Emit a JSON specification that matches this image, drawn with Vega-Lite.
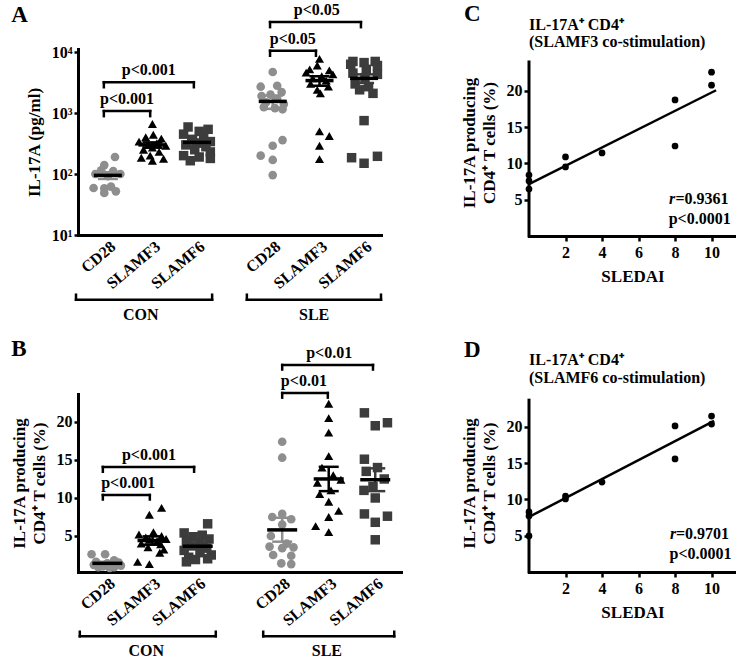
{
 "$schema": "https://vega.github.io/schema/vega-lite/v6.json",
 "padding": {"left": 10, "top": 2, "right": 0, "bottom": 0},
 "background": "white",
 "config": {
  "view": {"stroke": null},
  "font": "Liberation Serif",
  "axis": {"domainColor": "#000", "domainWidth": 3, "domainCap": "square", "tickColor": "#000", "tickWidth": 2.5, "tickSize": 5, "labelFont": "Liberation Serif", "labelFontSize": 16, "labelFontWeight": "bold", "labelColor": "#000", "titleFont": "Liberation Serif", "titleFontSize": 17, "titleFontWeight": "bold", "titleColor": "#000", "grid": false, "labelOverlap": false},
  "text": {"font": "Liberation Serif", "fontWeight": "bold", "fontSize": 16, "color": "#000"}
 },
 "datasets": {
  "a_pts": [
   {"k":"CD28","x":1.16,"v":190},{"k":"CD28","x":0.92,"v":140},{"k":"CD28","x":0.85,"v":115},{"k":"CD28","x":1.12,"v":112},{"k":"CD28","x":0.72,"v":100},{"k":"CD28","x":1.28,"v":100},{"k":"CD28","x":1.0,"v":92},{"k":"CD28","x":1.07,"v":62},{"k":"CD28","x":0.68,"v":59},{"k":"CD28","x":0.92,"v":58},{"k":"CD28","x":1.18,"v":52},{"k":"CD28","x":0.92,"v":49},
   {"k":"SLAMF3","x":2.0,"v":660},{"k":"SLAMF3","x":2.02,"v":440},{"k":"SLAMF3","x":1.85,"v":400},{"k":"SLAMF3","x":2.2,"v":380},{"k":"SLAMF3","x":1.7,"v":340},{"k":"SLAMF3","x":2.1,"v":320},{"k":"SLAMF3","x":1.9,"v":300},{"k":"SLAMF3","x":2.3,"v":290},{"k":"SLAMF3","x":2.0,"v":270},{"k":"SLAMF3","x":1.8,"v":250},{"k":"SLAMF3","x":2.15,"v":230},{"k":"SLAMF3","x":1.95,"v":200},{"k":"SLAMF3","x":1.75,"v":185},{"k":"SLAMF3","x":2.25,"v":178},{"k":"SLAMF3","x":2.0,"v":165},
   {"k":"SLAMF6","x":2.8,"v":590},{"k":"SLAMF6","x":3.25,"v":540},{"k":"SLAMF6","x":3.05,"v":500},{"k":"SLAMF6","x":2.7,"v":450},{"k":"SLAMF6","x":3.15,"v":400},{"k":"SLAMF6","x":2.9,"v":370},{"k":"SLAMF6","x":3.3,"v":340},{"k":"SLAMF6","x":3.0,"v":320},{"k":"SLAMF6","x":2.75,"v":300},{"k":"SLAMF6","x":3.2,"v":280},{"k":"SLAMF6","x":2.95,"v":250},{"k":"SLAMF6","x":3.3,"v":230},{"k":"SLAMF6","x":2.7,"v":200},{"k":"SLAMF6","x":3.05,"v":190},{"k":"SLAMF6","x":3.3,"v":180},{"k":"SLAMF6","x":2.85,"v":165},
   {"k":"CD28","x":4.7,"v":4700},{"k":"CD28","x":4.8,"v":2800},{"k":"CD28","x":4.43,"v":2700},{"k":"CD28","x":4.9,"v":2200},{"k":"CD28","x":4.65,"v":2000},{"k":"CD28","x":4.45,"v":1900},{"k":"CD28","x":4.8,"v":1700},{"k":"CD28","x":4.55,"v":1500},{"k":"CD28","x":4.95,"v":1400},{"k":"CD28","x":4.5,"v":1250},{"k":"CD28","x":4.75,"v":1200},{"k":"CD28","x":4.92,"v":1150},{"k":"CD28","x":4.92,"v":360},{"k":"CD28","x":4.7,"v":290},{"k":"CD28","x":4.43,"v":200},{"k":"CD28","x":4.7,"v":170},{"k":"CD28","x":4.7,"v":96},
   {"k":"SLAMF3","x":5.75,"v":7700},{"k":"SLAMF3","x":5.7,"v":6000},{"k":"SLAMF3","x":5.53,"v":5200},{"k":"SLAMF3","x":5.97,"v":5000},{"k":"SLAMF3","x":5.45,"v":4600},{"k":"SLAMF3","x":6.05,"v":4300},{"k":"SLAMF3","x":5.8,"v":4000},{"k":"SLAMF3","x":5.6,"v":3700},{"k":"SLAMF3","x":5.9,"v":3400},{"k":"SLAMF3","x":5.55,"v":3000},{"k":"SLAMF3","x":5.95,"v":2700},{"k":"SLAMF3","x":5.7,"v":2400},{"k":"SLAMF3","x":5.77,"v":2100},{"k":"SLAMF3","x":5.75,"v":500},{"k":"SLAMF3","x":5.97,"v":420},{"k":"SLAMF3","x":5.75,"v":290},{"k":"SLAMF3","x":5.75,"v":175},
   {"k":"SLAMF6","x":6.5,"v":7000},{"k":"SLAMF6","x":7.0,"v":7000},{"k":"SLAMF6","x":6.75,"v":6700},{"k":"SLAMF6","x":6.45,"v":6300},{"k":"SLAMF6","x":7.05,"v":6000},{"k":"SLAMF6","x":6.8,"v":5200},{"k":"SLAMF6","x":6.5,"v":4500},{"k":"SLAMF6","x":7.05,"v":4300},{"k":"SLAMF6","x":6.77,"v":3800},{"k":"SLAMF6","x":6.55,"v":3000},{"k":"SLAMF6","x":6.85,"v":2700},{"k":"SLAMF6","x":6.65,"v":2400},{"k":"SLAMF6","x":6.95,"v":2100},{"k":"SLAMF6","x":6.75,"v":750},{"k":"SLAMF6","x":7.05,"v":195},{"k":"SLAMF6","x":6.47,"v":185},{"k":"SLAMF6","x":6.75,"v":150}
  ],
  "a_st": [
   {"k":"CD28","x":1,"m":95,"lo":83,"hi":107},
   {"k":"SLAMF3","x":2,"m":300,"lo":270,"hi":330},
   {"k":"SLAMF6","x":3,"m":330,"lo":295,"hi":365},
   {"k":"CD28","x":4.7,"m":1550,"lo":1170,"hi":1930},
   {"k":"SLAMF3","x":5.75,"m":3400,"lo":2800,"hi":4000},
   {"k":"SLAMF6","x":6.75,"m":3700,"lo":3100,"hi":4300}
  ],
  "a_br": [
   {"kind":"p","x1":0.91,"x2":1.95,"y":1075,"yt":888,"tx":1.43,"label":"p<0.001"},
   {"kind":"p","x1":0.91,"x2":2.93,"y":3200,"yt":2645,"tx":1.92,"label":"p<0.001"},
   {"kind":"p","x1":4.64,"x2":5.67,"y":10500,"yt":8680,"tx":5.15,"label":"p<0.05"},
   {"kind":"p","x1":4.64,"x2":6.68,"y":30900,"yt":25540,"tx":5.69,"label":"p<0.05"},
   {"kind":"g","x1":0.285,"x2":3.34,"y":0.869,"yt":1.05,"tx":1.74,"label":"CON"},
   {"kind":"g","x1":4.12,"x2":7.13,"y":0.869,"yt":1.05,"tx":5.63,"label":"SLE"}
  ],
  "b_pts": [
   {"k":"CD28","x":0.65,"v":2.6},{"k":"CD28","x":0.95,"v":2.6},{"k":"CD28","x":1.15,"v":1.8},{"k":"CD28","x":0.75,"v":1.6},{"k":"CD28","x":1.25,"v":1.5},{"k":"CD28","x":1.0,"v":1.4},{"k":"CD28","x":0.7,"v":1.2},{"k":"CD28","x":1.3,"v":1.1},{"k":"CD28","x":0.9,"v":1.0},{"k":"CD28","x":1.15,"v":0.9},{"k":"CD28","x":0.8,"v":0.9},{"k":"CD28","x":1.05,"v":0.8},
   {"k":"SLAMF3","x":1.93,"v":7.8},{"k":"SLAMF3","x":2.2,"v":8.7},{"k":"SLAMF3","x":2.02,"v":5.5},{"k":"SLAMF3","x":1.7,"v":5.2},{"k":"SLAMF3","x":2.2,"v":5.0},{"k":"SLAMF3","x":1.85,"v":4.8},{"k":"SLAMF3","x":2.3,"v":4.6},{"k":"SLAMF3","x":1.93,"v":4.5},{"k":"SLAMF3","x":2.1,"v":4.3},{"k":"SLAMF3","x":1.75,"v":4.0},{"k":"SLAMF3","x":2.18,"v":3.9},{"k":"SLAMF3","x":1.9,"v":3.5},{"k":"SLAMF3","x":2.25,"v":3.2},{"k":"SLAMF3","x":2.16,"v":2.8},{"k":"SLAMF3","x":1.67,"v":1.6},{"k":"SLAMF3","x":1.93,"v":1.3},
   {"k":"SLAMF6","x":3.22,"v":6.6},{"k":"SLAMF6","x":2.7,"v":5.4},{"k":"SLAMF6","x":3.1,"v":5.1},{"k":"SLAMF6","x":2.9,"v":4.9},{"k":"SLAMF6","x":3.25,"v":4.6},{"k":"SLAMF6","x":2.75,"v":4.3},{"k":"SLAMF6","x":3.05,"v":4.0},{"k":"SLAMF6","x":2.85,"v":3.7},{"k":"SLAMF6","x":3.2,"v":3.4},{"k":"SLAMF6","x":2.7,"v":3.1},{"k":"SLAMF6","x":3.05,"v":2.8},{"k":"SLAMF6","x":3.3,"v":2.5},{"k":"SLAMF6","x":2.8,"v":2.2},{"k":"SLAMF6","x":3.22,"v":2.0},{"k":"SLAMF6","x":2.95,"v":1.9},{"k":"SLAMF6","x":2.75,"v":1.6},
   {"k":"CD28","x":4.87,"v":17.4},{"k":"CD28","x":4.87,"v":15.3},{"k":"CD28","x":4.87,"v":7.9},{"k":"CD28","x":4.65,"v":7.5},{"k":"CD28","x":5.07,"v":7.2},{"k":"CD28","x":4.87,"v":6.5},{"k":"CD28","x":4.62,"v":5.0},{"k":"CD28","x":4.97,"v":4.0},{"k":"CD28","x":4.59,"v":3.6},{"k":"CD28","x":5.12,"v":3.5},{"k":"CD28","x":4.87,"v":3.4},{"k":"CD28","x":4.67,"v":2.5},{"k":"CD28","x":5.07,"v":2.4},{"k":"CD28","x":4.85,"v":1.4},{"k":"CD28","x":5.07,"v":1.3},
   {"k":"SLAMF3","x":5.9,"v":22.4},{"k":"SLAMF3","x":5.9,"v":20.5},{"k":"SLAMF3","x":5.9,"v":18.6},{"k":"SLAMF3","x":5.9,"v":15.5},{"k":"SLAMF3","x":5.75,"v":14.0},{"k":"SLAMF3","x":6.0,"v":13.0},{"k":"SLAMF3","x":6.17,"v":12.4},{"k":"SLAMF3","x":5.65,"v":12.0},{"k":"SLAMF3","x":5.95,"v":11.0},{"k":"SLAMF3","x":5.7,"v":10.5},{"k":"SLAMF3","x":5.9,"v":9.5},{"k":"SLAMF3","x":6.12,"v":8.3},{"k":"SLAMF3","x":5.9,"v":7.5},{"k":"SLAMF3","x":5.61,"v":6.3},{"k":"SLAMF3","x":5.9,"v":5.5},
   {"k":"SLAMF6","x":6.69,"v":21.2},{"k":"SLAMF6","x":7.2,"v":19.9},{"k":"SLAMF6","x":6.93,"v":19.5},{"k":"SLAMF6","x":6.69,"v":15.1},{"k":"SLAMF6","x":6.98,"v":14.0},{"k":"SLAMF6","x":6.73,"v":13.5},{"k":"SLAMF6","x":7.13,"v":12.5},{"k":"SLAMF6","x":6.88,"v":11.5},{"k":"SLAMF6","x":6.68,"v":11.0},{"k":"SLAMF6","x":6.93,"v":10.0},{"k":"SLAMF6","x":6.69,"v":7.9},{"k":"SLAMF6","x":7.2,"v":7.6},{"k":"SLAMF6","x":6.93,"v":6.8},{"k":"SLAMF6","x":6.93,"v":4.5}
  ],
  "b_st": [
   {"k":"CD28","x":1,"m":1.4,"lo":1.2,"hi":1.6},
   {"k":"SLAMF3","x":2,"m":4.4,"lo":3.85,"hi":4.95},
   {"k":"SLAMF6","x":3,"m":3.65,"lo":3.3,"hi":4.0},
   {"k":"CD28","x":4.87,"m":5.8,"lo":4.25,"hi":7.4},
   {"k":"SLAMF3","x":5.9,"m":12.5,"lo":10.9,"hi":14.1},
   {"k":"SLAMF6","x":6.93,"m":12.4,"lo":10.9,"hi":13.9}
  ],
  "b_br": [
   {"kind":"p","x1":0.9,"x2":1.94,"y":10.39,"yt":9.8,"tx":1.46,"label":"p<0.001"},
   {"kind":"p","x1":0.9,"x2":2.92,"y":14.08,"yt":13.45,"tx":1.92,"label":"p<0.001"},
   {"kind":"p","x1":4.87,"x2":5.88,"y":23.81,"yt":23.2,"tx":5.35,"label":"p<0.01"},
   {"kind":"p","x1":4.87,"x2":6.88,"y":27.5,"yt":26.9,"tx":5.91,"label":"p<0.01"},
   {"kind":"g","x1":0.39,"x2":3.4,"y":-8.2,"yt":-7.6,"tx":1.86,"label":"CON"},
   {"kind":"g","x1":4.45,"x2":7.35,"y":-8.2,"yt":-7.6,"tx":5.86,"label":"SLE"}
  ],
  "c_pts": [
   {"x":0,"y":8.41},{"x":0,"y":7.59},{"x":0,"y":6.48},{"x":2,"y":10.9},{"x":2,"y":9.52},{"x":4,"y":11.45},{"x":8,"y":18.76},{"x":8,"y":12.41},{"x":10,"y":22.6},{"x":10,"y":20.8}
  ],
  "c_ln": [{"x":0,"y":7.17},{"x":10.25,"y":20.1}],
  "c_ann": [{"x":8.02,"y":4.4,"t":"=0.9361"},{"x":7.65,"y":1.7,"t":"p<0.0001"}],
  "c_ttl": [{"x":0,"y":28.41,"t":"IL-17A⁺ CD4⁺"},{"x":0,"y":26.07,"t":"(SLAMF3 co-stimulation)"}],
  "d_pts": [
   {"x":0,"y":8.28},{"x":0,"y":7.72},{"x":0,"y":4.97},{"x":2,"y":10.48},{"x":2,"y":10.07},{"x":4,"y":12.41},{"x":8,"y":20.14},{"x":8,"y":15.59},{"x":10,"y":21.5},{"x":10,"y":20.4}
  ],
  "d_ln": [{"x":0,"y":7.59},{"x":10.14,"y":20.83}],
  "d_ann": [{"x":8.05,"y":4.55,"t":"=0.9701"},{"x":7.7,"y":1.79,"t":"p<0.0001"}],
  "d_ttl": [{"x":0,"y":28.55,"t":"IL-17A⁺ CD4⁺"},{"x":0,"y":26.07,"t":"(SLAMF6 co-stimulation)"}]
 },
 "columns": 2,
 "bounds": "flush",
 "spacing": {"row": 158, "column": 128},
 "concat": [
  {
   "width": 303, "height": 186,
   "layer": [
    {"data": {"name": "a_pts"}, "mark": {"type": "point", "filled": true, "opacity": 1, "strokeWidth": 0},
     "encoding": {
      "x": {"field": "x", "type": "quantitative", "scale": {"domain": [0.33, 7.13], "nice": false, "zero": false},
            "axis": {"values": [1, 2, 3, 4.7, 5.75, 6.75], "labelExpr": "datum.value < 1.5 || (datum.value > 4 && datum.value < 5.3) ? 'CD28' : (datum.value < 2.5 || (datum.value > 5.3 && datum.value < 6.3)) ? 'SLAMF3' : 'SLAMF6'", "labelAngle": -40, "ticks": false, "tickSize": 0, "labelPadding": 3, "labelFlush": false, "title": null}},
      "y": {"field": "v", "type": "quantitative", "scale": {"type": "log", "domain": [10, 11200], "nice": false},
            "axis": {"values": [10, 100, 1000, 10000], "labelExpr": "'10' + (datum.value >= 9000 ? '⁴' : datum.value >= 900 ? '³' : datum.value >= 90 ? '²' : '¹')", "title": "IL-17A (pg/ml)", "titlePadding": 8, "tickSize": 4, "labelPadding": 2}},
      "color": {"field": "k", "type": "nominal", "scale": {"domain": ["CD28", "SLAMF3", "SLAMF6"], "range": ["#8e8e8e", "#000000", "#3c3c3c"]}, "legend": null},
      "shape": {"field": "k", "type": "nominal", "scale": {"domain": ["CD28", "SLAMF3", "SLAMF6"], "range": ["circle", "triangle-up", "square"]}, "legend": null},
      "size": {"field": "k", "type": "nominal", "scale": {"domain": ["CD28", "SLAMF3", "SLAMF6"], "range": [75, 90, 65]}, "legend": null}
     }},
    {"data": {"name": "a_st"}, "mark": {"type": "rule", "strokeWidth": 2.5},
     "encoding": {"x": {"field": "x", "type": "quantitative", "scale": {"domain": [0.33, 7.13], "nice": false, "zero": false}},
      "y": {"field": "lo", "type": "quantitative", "scale": {"type": "log", "domain": [10, 11200], "nice": false}}, "y2": {"field": "hi"},
      "color": {"field": "k", "type": "nominal", "scale": {"domain": ["CD28", "SLAMF3", "SLAMF6"], "range": ["#8e8e8e", "#000000", "#3c3c3c"]}, "legend": null}}},
    {"data": {"name": "a_st"}, "mark": {"type": "tick", "orient": "horizontal", "size": 20, "thickness": 2.5, "opacity": 1},
     "encoding": {"x": {"field": "x", "type": "quantitative", "scale": {"domain": [0.33, 7.13], "nice": false, "zero": false}},
      "y": {"field": "lo", "type": "quantitative", "scale": {"type": "log", "domain": [10, 11200], "nice": false}},
      "color": {"field": "k", "type": "nominal", "scale": {"domain": ["CD28", "SLAMF3", "SLAMF6"], "range": ["#8e8e8e", "#000000", "#3c3c3c"]}, "legend": null}}},
    {"data": {"name": "a_st"}, "mark": {"type": "tick", "orient": "horizontal", "size": 20, "thickness": 2.5, "opacity": 1},
     "encoding": {"x": {"field": "x", "type": "quantitative", "scale": {"domain": [0.33, 7.13], "nice": false, "zero": false}},
      "y": {"field": "hi", "type": "quantitative", "scale": {"type": "log", "domain": [10, 11200], "nice": false}},
      "color": {"field": "k", "type": "nominal", "scale": {"domain": ["CD28", "SLAMF3", "SLAMF6"], "range": ["#8e8e8e", "#000000", "#3c3c3c"]}, "legend": null}}},
    {"data": {"name": "a_st"}, "mark": {"type": "tick", "orient": "horizontal", "size": 28, "thickness": 3.5, "color": "#000", "opacity": 1},
     "encoding": {"x": {"field": "x", "type": "quantitative", "scale": {"domain": [0.33, 7.13], "nice": false, "zero": false}},
      "y": {"field": "m", "type": "quantitative", "scale": {"type": "log", "domain": [10, 11200], "nice": false}}}},
    {"data": {"name": "a_br"}, "mark": {"type": "rule", "strokeWidth": 2.5, "color": "#000", "strokeCap": "square"},
     "encoding": {"x": {"field": "x1", "type": "quantitative", "scale": {"domain": [0.33, 7.13], "nice": false, "zero": false}}, "x2": {"field": "x2"},
      "y": {"field": "y", "type": "quantitative", "scale": {"type": "log", "domain": [10, 11200], "nice": false}}}},
    {"data": {"name": "a_br"}, "mark": {"type": "rule", "strokeWidth": 2.5, "color": "#000", "strokeCap": "square"},
     "encoding": {"x": {"field": "x1", "type": "quantitative", "scale": {"domain": [0.33, 7.13], "nice": false, "zero": false}},
      "y": {"field": "y", "type": "quantitative", "scale": {"type": "log", "domain": [10, 11200], "nice": false}}, "y2": {"field": "yt"}}},
    {"data": {"name": "a_br"}, "mark": {"type": "rule", "strokeWidth": 2.5, "color": "#000", "strokeCap": "square"},
     "encoding": {"x": {"field": "x2", "type": "quantitative", "scale": {"domain": [0.33, 7.13], "nice": false, "zero": false}},
      "y": {"field": "y", "type": "quantitative", "scale": {"type": "log", "domain": [10, 11200], "nice": false}}, "y2": {"field": "yt"}}},
    {"data": {"name": "a_br"}, "transform": [{"filter": "datum.kind == 'p'"}], "mark": {"type": "text", "dy": -7, "align": "center", "baseline": "alphabetic"},
     "encoding": {"x": {"field": "tx", "type": "quantitative", "scale": {"domain": [0.33, 7.13], "nice": false, "zero": false}},
      "y": {"field": "y", "type": "quantitative", "scale": {"type": "log", "domain": [10, 11200], "nice": false}}, "text": {"field": "label"}}},
    {"data": {"name": "a_br"}, "transform": [{"filter": "datum.kind == 'g'"}], "mark": {"type": "text", "dy": 20, "align": "center", "baseline": "alphabetic"},
     "encoding": {"x": {"field": "tx", "type": "quantitative", "scale": {"domain": [0.33, 7.13], "nice": false, "zero": false}},
      "y": {"field": "y", "type": "quantitative", "scale": {"type": "log", "domain": [10, 11200], "nice": false}}, "text": {"field": "label"}}},
    {"data": {"values": [{}]}, "mark": {"type": "text", "text": "A", "fontSize": 23, "align": "left", "baseline": "alphabetic"},
     "encoding": {"x": {"datum": -1.17, "type": "quantitative", "scale": {"domain": [0.33, 7.13], "nice": false, "zero": false}},
      "y": {"datum": 31000, "type": "quantitative", "scale": {"type": "log", "domain": [10, 11200], "nice": false}}}}
   ]
  },
  {
   "width": 207, "height": 187,
   "layer": [
    {"data": {"name": "c_pts"}, "mark": {"type": "circle", "size": 45, "color": "#000", "opacity": 1},
     "encoding": {
      "x": {"field": "x", "type": "quantitative", "scale": {"domain": [0, 11.34], "nice": false, "zero": false},
            "axis": {"values": [2, 4, 6, 8, 10], "title": "SLEDAI", "labelFlush": false, "tickSize": 5, "labelPadding": 3, "titlePadding": 8}},
      "y": {"field": "y", "type": "quantitative", "scale": {"domain": [0, 25.79], "nice": false, "zero": false},
            "axis": {"values": [5, 10, 15, 20], "domain": false, "title": ["IL-17A producing", "CD4⁺ T cells (%)"], "titlePadding": 8, "tickSize": 5, "labelPadding": 2, "titleLineHeight": 20}}}},
    {"data": {"name": "c_ln"}, "mark": {"type": "line", "color": "#000", "strokeWidth": 2.5},
     "encoding": {"x": {"field": "x", "type": "quantitative", "scale": {"domain": [0, 11.34], "nice": false, "zero": false}},
      "y": {"field": "y", "type": "quantitative", "scale": {"domain": [0, 25.79], "nice": false, "zero": false}}}},
    {"data": {"values": [{}]}, "mark": {"type": "rule", "color": "#000", "strokeWidth": 3, "strokeCap": "square"},
     "encoding": {"x": {"datum": 0, "type": "quantitative", "scale": {"domain": [0, 11.34], "nice": false, "zero": false}},
      "y": {"datum": 0, "type": "quantitative", "scale": {"domain": [0, 25.79], "nice": false, "zero": false}}, "y2": {"datum": 24}}},
    {"data": {"name": "c_ann"}, "mark": {"type": "text", "align": "left", "baseline": "alphabetic"},
     "encoding": {"x": {"field": "x", "type": "quantitative", "scale": {"domain": [0, 11.34], "nice": false, "zero": false}},
      "y": {"field": "y", "type": "quantitative", "scale": {"domain": [0, 25.79], "nice": false, "zero": false}}, "text": {"field": "t"}}},
    {"data": {"name": "c_ttl"}, "mark": {"type": "text", "align": "left", "baseline": "alphabetic"},
     "encoding": {"x": {"field": "x", "type": "quantitative", "scale": {"domain": [0, 11.34], "nice": false, "zero": false}},
      "y": {"field": "y", "type": "quantitative", "scale": {"domain": [0, 25.79], "nice": false, "zero": false}}, "text": {"field": "t"}}},
    {"data": {"values": [{}]}, "mark": {"type": "text", "text": "r", "fontStyle": "italic", "align": "left", "baseline": "alphabetic"},
     "encoding": {"x": {"datum": 7.67, "type": "quantitative", "scale": {"domain": [0, 11.34], "nice": false, "zero": false}},
      "y": {"datum": 4.4, "type": "quantitative", "scale": {"domain": [0, 25.79], "nice": false, "zero": false}}}},
    {"data": {"values": [{}]}, "mark": {"type": "text", "text": "C", "fontSize": 23, "align": "left", "baseline": "alphabetic"},
     "encoding": {"x": {"datum": -3.56, "type": "quantitative", "scale": {"domain": [0, 11.34], "nice": false, "zero": false}},
      "y": {"datum": 29.66, "type": "quantitative", "scale": {"domain": [0, 25.79], "nice": false, "zero": false}}}}
   ]
  },
  {
   "width": 323, "height": 178,
   "layer": [
    {"data": {"name": "b_pts"}, "mark": {"type": "point", "filled": true, "opacity": 1, "strokeWidth": 0},
     "encoding": {
      "x": {"field": "x", "type": "quantitative", "scale": {"domain": [0.35, 7.5], "nice": false, "zero": false},
            "axis": {"values": [1, 2, 3, 4.87, 5.9, 6.93], "labelExpr": "datum.value < 1.5 || (datum.value > 4 && datum.value < 5.3) ? 'CD28' : (datum.value < 2.5 || (datum.value > 5.3 && datum.value < 6.3)) ? 'SLAMF3' : 'SLAMF6'", "labelAngle": -40, "ticks": false, "tickSize": 0, "labelPadding": 3, "labelFlush": false, "title": null}},
      "y": {"field": "v", "type": "quantitative", "scale": {"domain": [0.26, 23.68], "nice": false, "zero": false},
            "axis": {"values": [5, 10, 15, 20], "title": ["IL-17A producing", "CD4⁺ T cells (%)"], "titlePadding": 8, "tickSize": 4, "labelPadding": 2, "titleLineHeight": 20}},
      "color": {"field": "k", "type": "nominal", "scale": {"domain": ["CD28", "SLAMF3", "SLAMF6"], "range": ["#8e8e8e", "#000000", "#3c3c3c"]}, "legend": null},
      "shape": {"field": "k", "type": "nominal", "scale": {"domain": ["CD28", "SLAMF3", "SLAMF6"], "range": ["circle", "triangle-up", "square"]}, "legend": null},
      "size": {"field": "k", "type": "nominal", "scale": {"domain": ["CD28", "SLAMF3", "SLAMF6"], "range": [75, 90, 65]}, "legend": null}
     }},
    {"data": {"name": "b_st"}, "mark": {"type": "rule", "strokeWidth": 2.5},
     "encoding": {"x": {"field": "x", "type": "quantitative", "scale": {"domain": [0.35, 7.5], "nice": false, "zero": false}},
      "y": {"field": "lo", "type": "quantitative", "scale": {"domain": [0.26, 23.68], "nice": false, "zero": false}}, "y2": {"field": "hi"},
      "color": {"field": "k", "type": "nominal", "scale": {"domain": ["CD28", "SLAMF3", "SLAMF6"], "range": ["#8e8e8e", "#000000", "#3c3c3c"]}, "legend": null}}},
    {"data": {"name": "b_st"}, "mark": {"type": "tick", "orient": "horizontal", "size": 20, "thickness": 2.5, "opacity": 1},
     "encoding": {"x": {"field": "x", "type": "quantitative", "scale": {"domain": [0.35, 7.5], "nice": false, "zero": false}},
      "y": {"field": "lo", "type": "quantitative", "scale": {"domain": [0.26, 23.68], "nice": false, "zero": false}},
      "color": {"field": "k", "type": "nominal", "scale": {"domain": ["CD28", "SLAMF3", "SLAMF6"], "range": ["#8e8e8e", "#000000", "#3c3c3c"]}, "legend": null}}},
    {"data": {"name": "b_st"}, "mark": {"type": "tick", "orient": "horizontal", "size": 20, "thickness": 2.5, "opacity": 1},
     "encoding": {"x": {"field": "x", "type": "quantitative", "scale": {"domain": [0.35, 7.5], "nice": false, "zero": false}},
      "y": {"field": "hi", "type": "quantitative", "scale": {"domain": [0.26, 23.68], "nice": false, "zero": false}},
      "color": {"field": "k", "type": "nominal", "scale": {"domain": ["CD28", "SLAMF3", "SLAMF6"], "range": ["#8e8e8e", "#000000", "#3c3c3c"]}, "legend": null}}},
    {"data": {"name": "b_st"}, "mark": {"type": "tick", "orient": "horizontal", "size": 30, "thickness": 3.5, "color": "#000", "opacity": 1},
     "encoding": {"x": {"field": "x", "type": "quantitative", "scale": {"domain": [0.35, 7.5], "nice": false, "zero": false}},
      "y": {"field": "m", "type": "quantitative", "scale": {"domain": [0.26, 23.68], "nice": false, "zero": false}}}},
    {"data": {"name": "b_br"}, "mark": {"type": "rule", "strokeWidth": 2.5, "color": "#000", "strokeCap": "square"},
     "encoding": {"x": {"field": "x1", "type": "quantitative", "scale": {"domain": [0.35, 7.5], "nice": false, "zero": false}}, "x2": {"field": "x2"},
      "y": {"field": "y", "type": "quantitative", "scale": {"domain": [0.26, 23.68], "nice": false, "zero": false}}}},
    {"data": {"name": "b_br"}, "mark": {"type": "rule", "strokeWidth": 2.5, "color": "#000", "strokeCap": "square"},
     "encoding": {"x": {"field": "x1", "type": "quantitative", "scale": {"domain": [0.35, 7.5], "nice": false, "zero": false}},
      "y": {"field": "y", "type": "quantitative", "scale": {"domain": [0.26, 23.68], "nice": false, "zero": false}}, "y2": {"field": "yt"}}},
    {"data": {"name": "b_br"}, "mark": {"type": "rule", "strokeWidth": 2.5, "color": "#000", "strokeCap": "square"},
     "encoding": {"x": {"field": "x2", "type": "quantitative", "scale": {"domain": [0.35, 7.5], "nice": false, "zero": false}},
      "y": {"field": "y", "type": "quantitative", "scale": {"domain": [0.26, 23.68], "nice": false, "zero": false}}, "y2": {"field": "yt"}}},
    {"data": {"name": "b_br"}, "transform": [{"filter": "datum.kind == 'p'"}], "mark": {"type": "text", "dy": -7, "align": "center", "baseline": "alphabetic"},
     "encoding": {"x": {"field": "tx", "type": "quantitative", "scale": {"domain": [0.35, 7.5], "nice": false, "zero": false}},
      "y": {"field": "y", "type": "quantitative", "scale": {"domain": [0.26, 23.68], "nice": false, "zero": false}}, "text": {"field": "label"}}},
    {"data": {"name": "b_br"}, "transform": [{"filter": "datum.kind == 'g'"}], "mark": {"type": "text", "dy": 20, "align": "center", "baseline": "alphabetic"},
     "encoding": {"x": {"field": "tx", "type": "quantitative", "scale": {"domain": [0.35, 7.5], "nice": false, "zero": false}},
      "y": {"field": "y", "type": "quantitative", "scale": {"domain": [0.26, 23.68], "nice": false, "zero": false}}, "text": {"field": "label"}}},
    {"data": {"values": [{}]}, "mark": {"type": "text", "text": "B", "fontSize": 23, "align": "left", "baseline": "alphabetic"},
     "encoding": {"x": {"datum": -1.13, "type": "quantitative", "scale": {"domain": [0.35, 7.5], "nice": false, "zero": false}},
      "y": {"datum": 28.68, "type": "quantitative", "scale": {"domain": [0.26, 23.68], "nice": false, "zero": false}}}}
   ]
  },
  {
   "width": 207, "height": 178,
   "layer": [
    {"data": {"name": "d_pts"}, "mark": {"type": "circle", "size": 45, "color": "#000", "opacity": 1},
     "encoding": {
      "x": {"field": "x", "type": "quantitative", "scale": {"domain": [0, 11.34], "nice": false, "zero": false},
            "axis": {"values": [2, 4, 6, 8, 10], "title": "SLEDAI", "labelFlush": false, "tickSize": 5, "labelPadding": 3, "titlePadding": 8}},
      "y": {"field": "y", "type": "quantitative", "scale": {"domain": [0, 24.55], "nice": false, "zero": false},
            "axis": {"values": [5, 10, 15, 20], "domain": false, "title": ["IL-17A producing", "CD4⁺ T cells (%)"], "titlePadding": 8, "tickSize": 5, "labelPadding": 2, "titleLineHeight": 20}}}},
    {"data": {"name": "d_ln"}, "mark": {"type": "line", "color": "#000", "strokeWidth": 2.5},
     "encoding": {"x": {"field": "x", "type": "quantitative", "scale": {"domain": [0, 11.34], "nice": false, "zero": false}},
      "y": {"field": "y", "type": "quantitative", "scale": {"domain": [0, 24.55], "nice": false, "zero": false}}}},
    {"data": {"values": [{}]}, "mark": {"type": "rule", "color": "#000", "strokeWidth": 3, "strokeCap": "square"},
     "encoding": {"x": {"datum": 0, "type": "quantitative", "scale": {"domain": [0, 11.34], "nice": false, "zero": false}},
      "y": {"datum": 0, "type": "quantitative", "scale": {"domain": [0, 24.55], "nice": false, "zero": false}}, "y2": {"datum": 23.7}}},
    {"data": {"name": "d_ann"}, "mark": {"type": "text", "align": "left", "baseline": "alphabetic"},
     "encoding": {"x": {"field": "x", "type": "quantitative", "scale": {"domain": [0, 11.34], "nice": false, "zero": false}},
      "y": {"field": "y", "type": "quantitative", "scale": {"domain": [0, 24.55], "nice": false, "zero": false}}, "text": {"field": "t"}}},
    {"data": {"name": "d_ttl"}, "mark": {"type": "text", "align": "left", "baseline": "alphabetic"},
     "encoding": {"x": {"field": "x", "type": "quantitative", "scale": {"domain": [0, 11.34], "nice": false, "zero": false}},
      "y": {"field": "y", "type": "quantitative", "scale": {"domain": [0, 24.55], "nice": false, "zero": false}}, "text": {"field": "t"}}},
    {"data": {"values": [{}]}, "mark": {"type": "text", "text": "r", "fontStyle": "italic", "align": "left", "baseline": "alphabetic"},
     "encoding": {"x": {"datum": 7.72, "type": "quantitative", "scale": {"domain": [0, 11.34], "nice": false, "zero": false}},
      "y": {"datum": 4.55, "type": "quantitative", "scale": {"domain": [0, 24.55], "nice": false, "zero": false}}}},
    {"data": {"values": [{}]}, "mark": {"type": "text", "text": "D", "fontSize": 23, "align": "left", "baseline": "alphabetic"},
     "encoding": {"x": {"datum": -3.56, "type": "quantitative", "scale": {"domain": [0, 11.34], "nice": false, "zero": false}},
      "y": {"datum": 29.66, "type": "quantitative", "scale": {"domain": [0, 24.55], "nice": false, "zero": false}}}}
   ]
  }
 ]
}
